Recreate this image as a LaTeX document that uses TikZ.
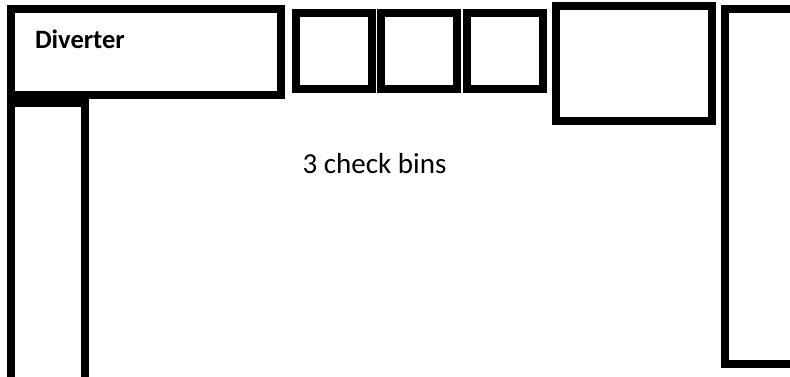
\documentclass[tikz,border=0pt]{standalone}
\usepackage{fontspec}
\setmainfont{Carlito}
\begin{document}
\begin{tikzpicture}[x=1pt,y=-1pt,
  box/.style={draw=black,line width=8pt,fill=white,inner sep=0pt,outer sep=0pt},
  lbl/.style={inner sep=0pt,outer sep=0pt,anchor=base west}]
\useasboundingbox (0,0) rectangle (790,376);
\clip (0,0) rectangle (790,376);
% left column (open at bottom)
\coordinate (cb1) at (11,390);
\coordinate (ct1) at (11,103);
\coordinate (ct2) at (85,103);
\coordinate (cb2) at (85,390);
\draw[line width=8pt] (cb1) -- (ct1) -- (ct2) -- (cb2);
% diverter
\node[box,minimum width=270pt,minimum height=86pt] (div) at (146,52) {};
\node[lbl,font=\bfseries\fontsize{26.5}{31}\selectfont] (divt) at (35,48) {Diverter};
% check bins
\node[box,minimum width=76pt,minimum height=76pt] (b1) at (333.7,51) {};
\node[box,minimum width=76pt,minimum height=76pt] (b2) at (419,51) {};
\node[box,minimum width=76pt,minimum height=76pt] (b3) at (505,51) {};
% large box
\node[box,minimum width=156.2pt,minimum height=115.5pt] (big) at (633.6,63.25) {};
% right box (open at right)
\coordinate (r1) at (800,9);
\coordinate (r2) at (725,9);
\coordinate (r3) at (725,364);
\coordinate (r4) at (800,364);
\draw[line width=8pt] (r1) -- (r2) -- (r3) -- (r4);
\node[lbl,font=\fontsize{29}{34}\selectfont] (cbt) at (302.7,173) {3 check bins};
\end{tikzpicture}
\end{document}
